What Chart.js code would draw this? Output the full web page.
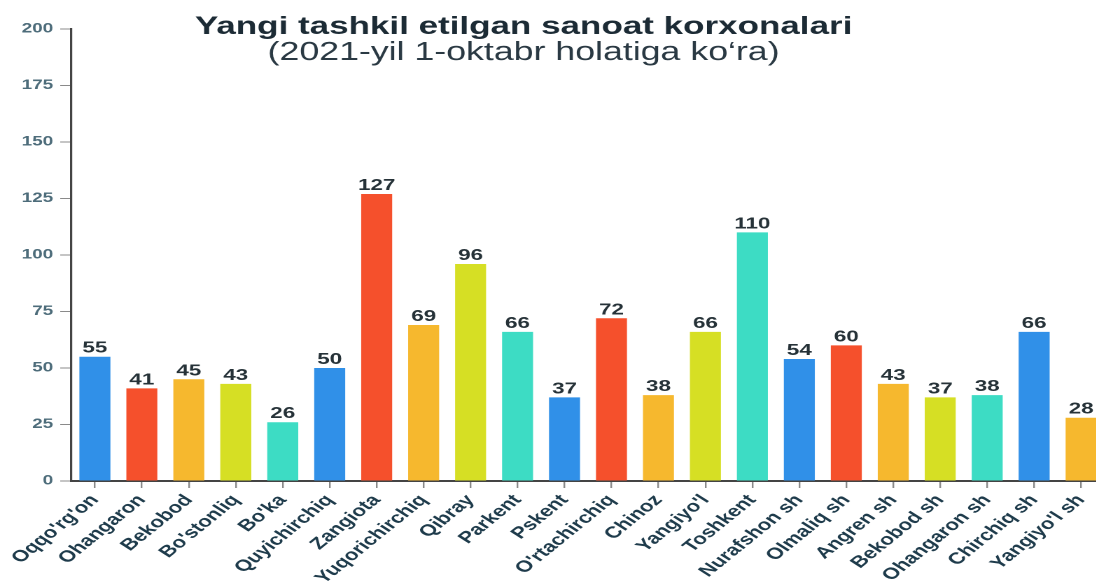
<!DOCTYPE html>
<html><head><meta charset="utf-8">
<script src="https://cdn.jsdelivr.net/npm/chart.js@4.4.0/dist/chart.umd.min.js"></script>
<style>
html,body{margin:0;padding:0;background:#fff;overflow:hidden;width:1096px;height:584px;}
#wrap{position:absolute;left:0;top:0;width:790px;height:584px;transform:scaleX(1.4);transform-origin:0 0;}
canvas{display:block;}
</style></head><body><div id="wrap"><canvas id="c" width="790" height="584"></canvas></div>
<script>
const chartTitle = 'Yangi tashkil etilgan sanoat korxonalari';
const chartSubtitle = '(2021-yil 1-oktabr holatiga ko‘ra)';
const categories = ["Oqqo'rg'on","Ohangaron","Bekobod","Bo'stonliq","Bo'ka","Quyichirchiq","Zangiota","Yuqorichirchiq","Qibray","Parkent","Pskent","O'rtachirchiq","Chinoz","Yangiyo'l","Toshkent","Nurafshon sh","Olmaliq sh","Angren sh","Bekobod sh","Ohangaron sh","Chirchiq sh","Yangiyo'l sh"];
const values = [55,41,45,43,26,50,127,69,96,66,37,72,38,66,110,54,60,43,37,38,66,28];
const yMin = 0, yMax = 200, yStep = 25;
const palette = {blue:'#3090e8', red:'#f5502c', orange:'#f6b82e', yellow:'#d6df24', teal:'#3ddcc4'};
const barColorNames = ['blue','red','orange','yellow','teal','blue','red','orange','yellow','teal','blue','red','orange','yellow','teal','blue','red','orange','yellow','teal','blue','orange'];

const FONT = "'Liberation Sans', Arial, Helvetica, sans-serif";

const titlePlugin = {
  id: 'titles',
  afterDraw(chart) {
    const ctx = chart.ctx;
    ctx.save();
    ctx.textAlign = 'center';
    ctx.textBaseline = 'alphabetic';
    ctx.fillStyle = '#1c2b35';
    ctx.font = 'bold 25px ' + FONT;
    ctx.fillText(chartTitle, 374, 34);
    ctx.fillStyle = '#2a3943';
    ctx.font = '25.5px ' + FONT;
    ctx.fillText(chartSubtitle, 374, 60);
    ctx.restore();
  }
};

const valueLabels = {
  id: 'valueLabels',
  afterDatasetsDraw(chart) {
    const ctx = chart.ctx;
    ctx.save();
    ctx.textAlign = 'center';
    ctx.textBaseline = 'alphabetic';
    ctx.fillStyle = '#263238';
    ctx.font = 'bold 16px ' + FONT;
    chart.getDatasetMeta(0).data.forEach((el, i) => {
      ctx.fillText(String(values[i]), el.x, el.y - 4);
    });
    ctx.restore();
  }
};

new Chart(document.getElementById('c'), {
  type: 'bar',
  data: {
    labels: categories,
    datasets: [{
      data: values,
      backgroundColor: barColorNames.map(n => palette[n]),
      borderWidth: 0,
      barPercentage: 0.66,
      categoryPercentage: 1
    }]
  },
  options: {
    responsive: false,
    animation: false,
    devicePixelRatio: 2,
    layout: { padding: { top: 29, left: 0, right: 1, bottom: 0 } },
    plugins: { legend: { display: false }, tooltip: { enabled: false }, title: { display: false } },
    scales: {
      x: {
        afterFit(scale) { scale.height = 103; },
        grid: { display: true, drawOnChartArea: false, drawTicks: true, tickLength: 7, color: '#8a8a8a', offset: false, lineWidth: 1.2 },
        border: { display: true, color: '#444', width: 2 },
        ticks: {
          autoSkip: false, maxRotation: 48.5, minRotation: 48.5, padding: 3,
          color: '#1e3b4b', font: { family: FONT, size: 16, weight: 'bold' }
        }
      },
      y: {
        min: yMin, max: yMax,
        afterFit(scale) { scale.width = 51; },
        grid: { display: true, drawOnChartArea: false, drawTicks: true, tickLength: 8, color: '#8a8a8a' },
        border: { display: true, color: '#444', width: 1.6 },
        ticks: {
          stepSize: yStep, padding: 5,
          color: '#4d6c7a', font: { family: FONT, size: 13.5, weight: 'bold' }
        }
      }
    }
  },
  plugins: [titlePlugin, valueLabels]
});
</script></body></html>
